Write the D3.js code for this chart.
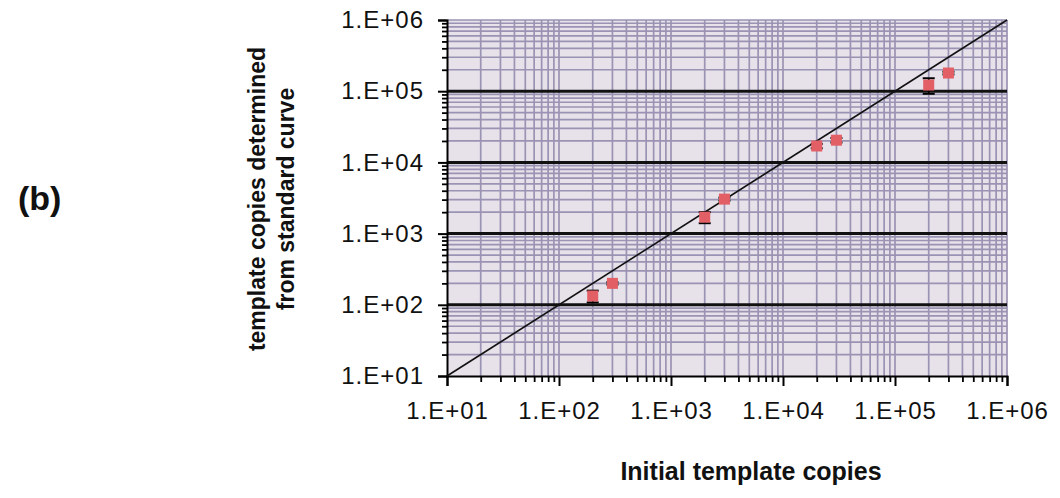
<!DOCTYPE html>
<html>
<head>
<meta charset="utf-8">
<script src="https://cdn.jsdelivr.net/npm/d3@7"></script>
<style>
  html, body { margin: 0; padding: 0; background: #ffffff; }
  svg { display: block; }
</style>
</head>
<body>
<svg id="chart" width="1060" height="498"></svg>
<script>
// ---- data ----
const xValues = [200, 300, 2000, 3000, 20000, 30000, 200000, 300000];
const yValues = [133, 200, 1700, 3050, 17000, 20500, 122000, 180000];
const yErrors = [25, 8, 300, 150, 1200, 1500, 30000, 8000];
const decadeTicks = [1e1, 1e2, 1e3, 1e4, 1e5, 1e6];
const tickLabels = ["1.E+01", "1.E+02", "1.E+03", "1.E+04", "1.E+05", "1.E+06"];
const identityLine = [10, 1e6];
const xTitle = "Initial template copies";
const yTitleLines = ["template copies determined", "from standard curve"];
const panelLabel = "(b)";

(function () {
// ---- layout ----
const svg = d3.select("#chart");
const pLeft = 447, pRight = 1007, pTop = 20, pBottom = 376;
const x = d3.scaleLog().domain([10, 1e6]).range([pLeft, pRight]);
const y = d3.scaleLog().domain([10, 1e6]).range([pBottom, pTop]);

const minorVals = [];
for (let e = 1; e < 6; e++) for (let m = 2; m <= 9; m++) minorVals.push(m * Math.pow(10, e));

// background
svg.append("rect").attr("x", pLeft).attr("y", pTop)
  .attr("width", pRight - pLeft).attr("height", pBottom - pTop)
  .attr("fill", "#e7e1ea");

const grid = svg.append("g");
grid.append("g").selectAll("line").data(minorVals.concat(decadeTicks.slice(1))).join("line")
  .attr("x1", d => x(d)).attr("x2", d => x(d))
  .attr("y1", pTop).attr("y2", pBottom)
  .attr("stroke", "#9a93b3").attr("stroke-width", 1.7);
grid.append("g").selectAll("line").data(minorVals.concat([1e6])).join("line")
  .attr("y1", d => y(d)).attr("y2", d => y(d))
  .attr("x1", pLeft).attr("x2", pRight)
  .attr("stroke", "#9a93b3").attr("stroke-width", 1.7);
grid.append("g").selectAll("line").data(decadeTicks.slice(1, 5)).join("line")
  .attr("y1", d => y(d)).attr("y2", d => y(d))
  .attr("x1", pLeft).attr("x2", pRight)
  .attr("stroke", "#111").attr("stroke-width", 3);

// axes
const fontTick = "'Liberation Sans', Arial, sans-serif";
const xAxis = d3.axisBottom(x).tickValues(decadeTicks).tickFormat((d, i) => tickLabels[i])
  .tickSize(10).tickPadding(16);
const gx = svg.append("g").attr("transform", `translate(0,${pBottom})`).call(xAxis);
const yAxis = d3.axisLeft(y).tickValues(decadeTicks).tickFormat((d, i) => tickLabels[i])
  .tickSize(9).tickPadding(14);
const gy = svg.append("g").attr("transform", `translate(${pLeft},0)`).call(yAxis);
[gx, gy].forEach(g => {
  g.select(".domain").attr("stroke", "#000").attr("stroke-width", 2);
  g.selectAll(".tick line").attr("stroke", "#000").attr("stroke-width", 2);
  g.selectAll(".tick text").attr("fill", "#111")
    .style("font-family", fontTick).style("font-size", "24px").style("letter-spacing", "1px");
});
const xMinor = d3.axisBottom(x).tickValues(minorVals).tickFormat("").tickSize(6);
svg.append("g").attr("transform", `translate(0,${pBottom})`).call(xMinor)
  .call(g => g.select(".domain").remove())
  .selectAll(".tick line").attr("stroke", "#000").attr("stroke-width", 1.8);
const yMinor = d3.axisLeft(y).tickValues(minorVals).tickFormat("").tickSize(5);
svg.append("g").attr("transform", `translate(${pLeft},0)`).call(yMinor)
  .call(g => g.select(".domain").remove())
  .selectAll(".tick line").attr("stroke", "#000").attr("stroke-width", 1.8);

// identity line
svg.append("path")
  .datum(identityLine)
  .attr("d", d3.line().x(d => x(d)).y(d => y(d)))
  .attr("stroke", "#111").attr("stroke-width", 1.6).attr("fill", "none");

// error bars
const pts = xValues.map((v, i) => ({ x: v, y: yValues[i], e: yErrors[i] }));
const eb = svg.append("g");
eb.append("g").selectAll("line").data(pts).join("line")
  .attr("x1", d => x(d.x)).attr("x2", d => x(d.x))
  .attr("y1", d => y(d.y + d.e)).attr("y2", d => y(d.y - d.e))
  .attr("stroke", "#000").attr("stroke-width", 1.5);
eb.append("g").selectAll("line").data(pts).join("line")
  .attr("x1", d => x(d.x) - 6).attr("x2", d => x(d.x) + 6)
  .attr("y1", d => y(d.y + d.e)).attr("y2", d => y(d.y + d.e))
  .attr("stroke", "#000").attr("stroke-width", 2);
eb.append("g").selectAll("line").data(pts).join("line")
  .attr("x1", d => x(d.x) - 6).attr("x2", d => x(d.x) + 6)
  .attr("y1", d => y(d.y - d.e)).attr("y2", d => y(d.y - d.e))
  .attr("stroke", "#000").attr("stroke-width", 2);

// markers
const ms = 11;
svg.append("g").selectAll("rect").data(pts).join("rect")
  .attr("x", d => x(d.x) - ms / 2).attr("y", d => y(d.y) - ms / 2)
  .attr("width", ms).attr("height", ms)
  .attr("fill", "#e35f66");

// titles
const fontTitle = "'Liberation Sans', Arial, sans-serif";
svg.append("text").attr("x", 751).attr("y", 480).attr("text-anchor", "middle")
  .style("font-family", fontTitle).style("font-weight", "bold").style("font-size", "25px")
  .attr("fill", "#111").text(xTitle);

svg.append("g").selectAll("text").data(yTitleLines).join("text")
  .attr("transform", (d, i) => `translate(${265 + i * 29},199) rotate(-90)`)
  .attr("text-anchor", "middle")
  .style("font-family", fontTitle).style("font-weight", "bold").style("font-size", "23px")
  .attr("fill", "#111").text(d => d);

svg.append("text").attr("x", 18).attr("y", 210)
  .style("font-family", fontTitle).style("font-weight", "bold").style("font-size", "34px")
  .attr("fill", "#111").text(panelLabel);
})();
</script>
</body>
</html>
